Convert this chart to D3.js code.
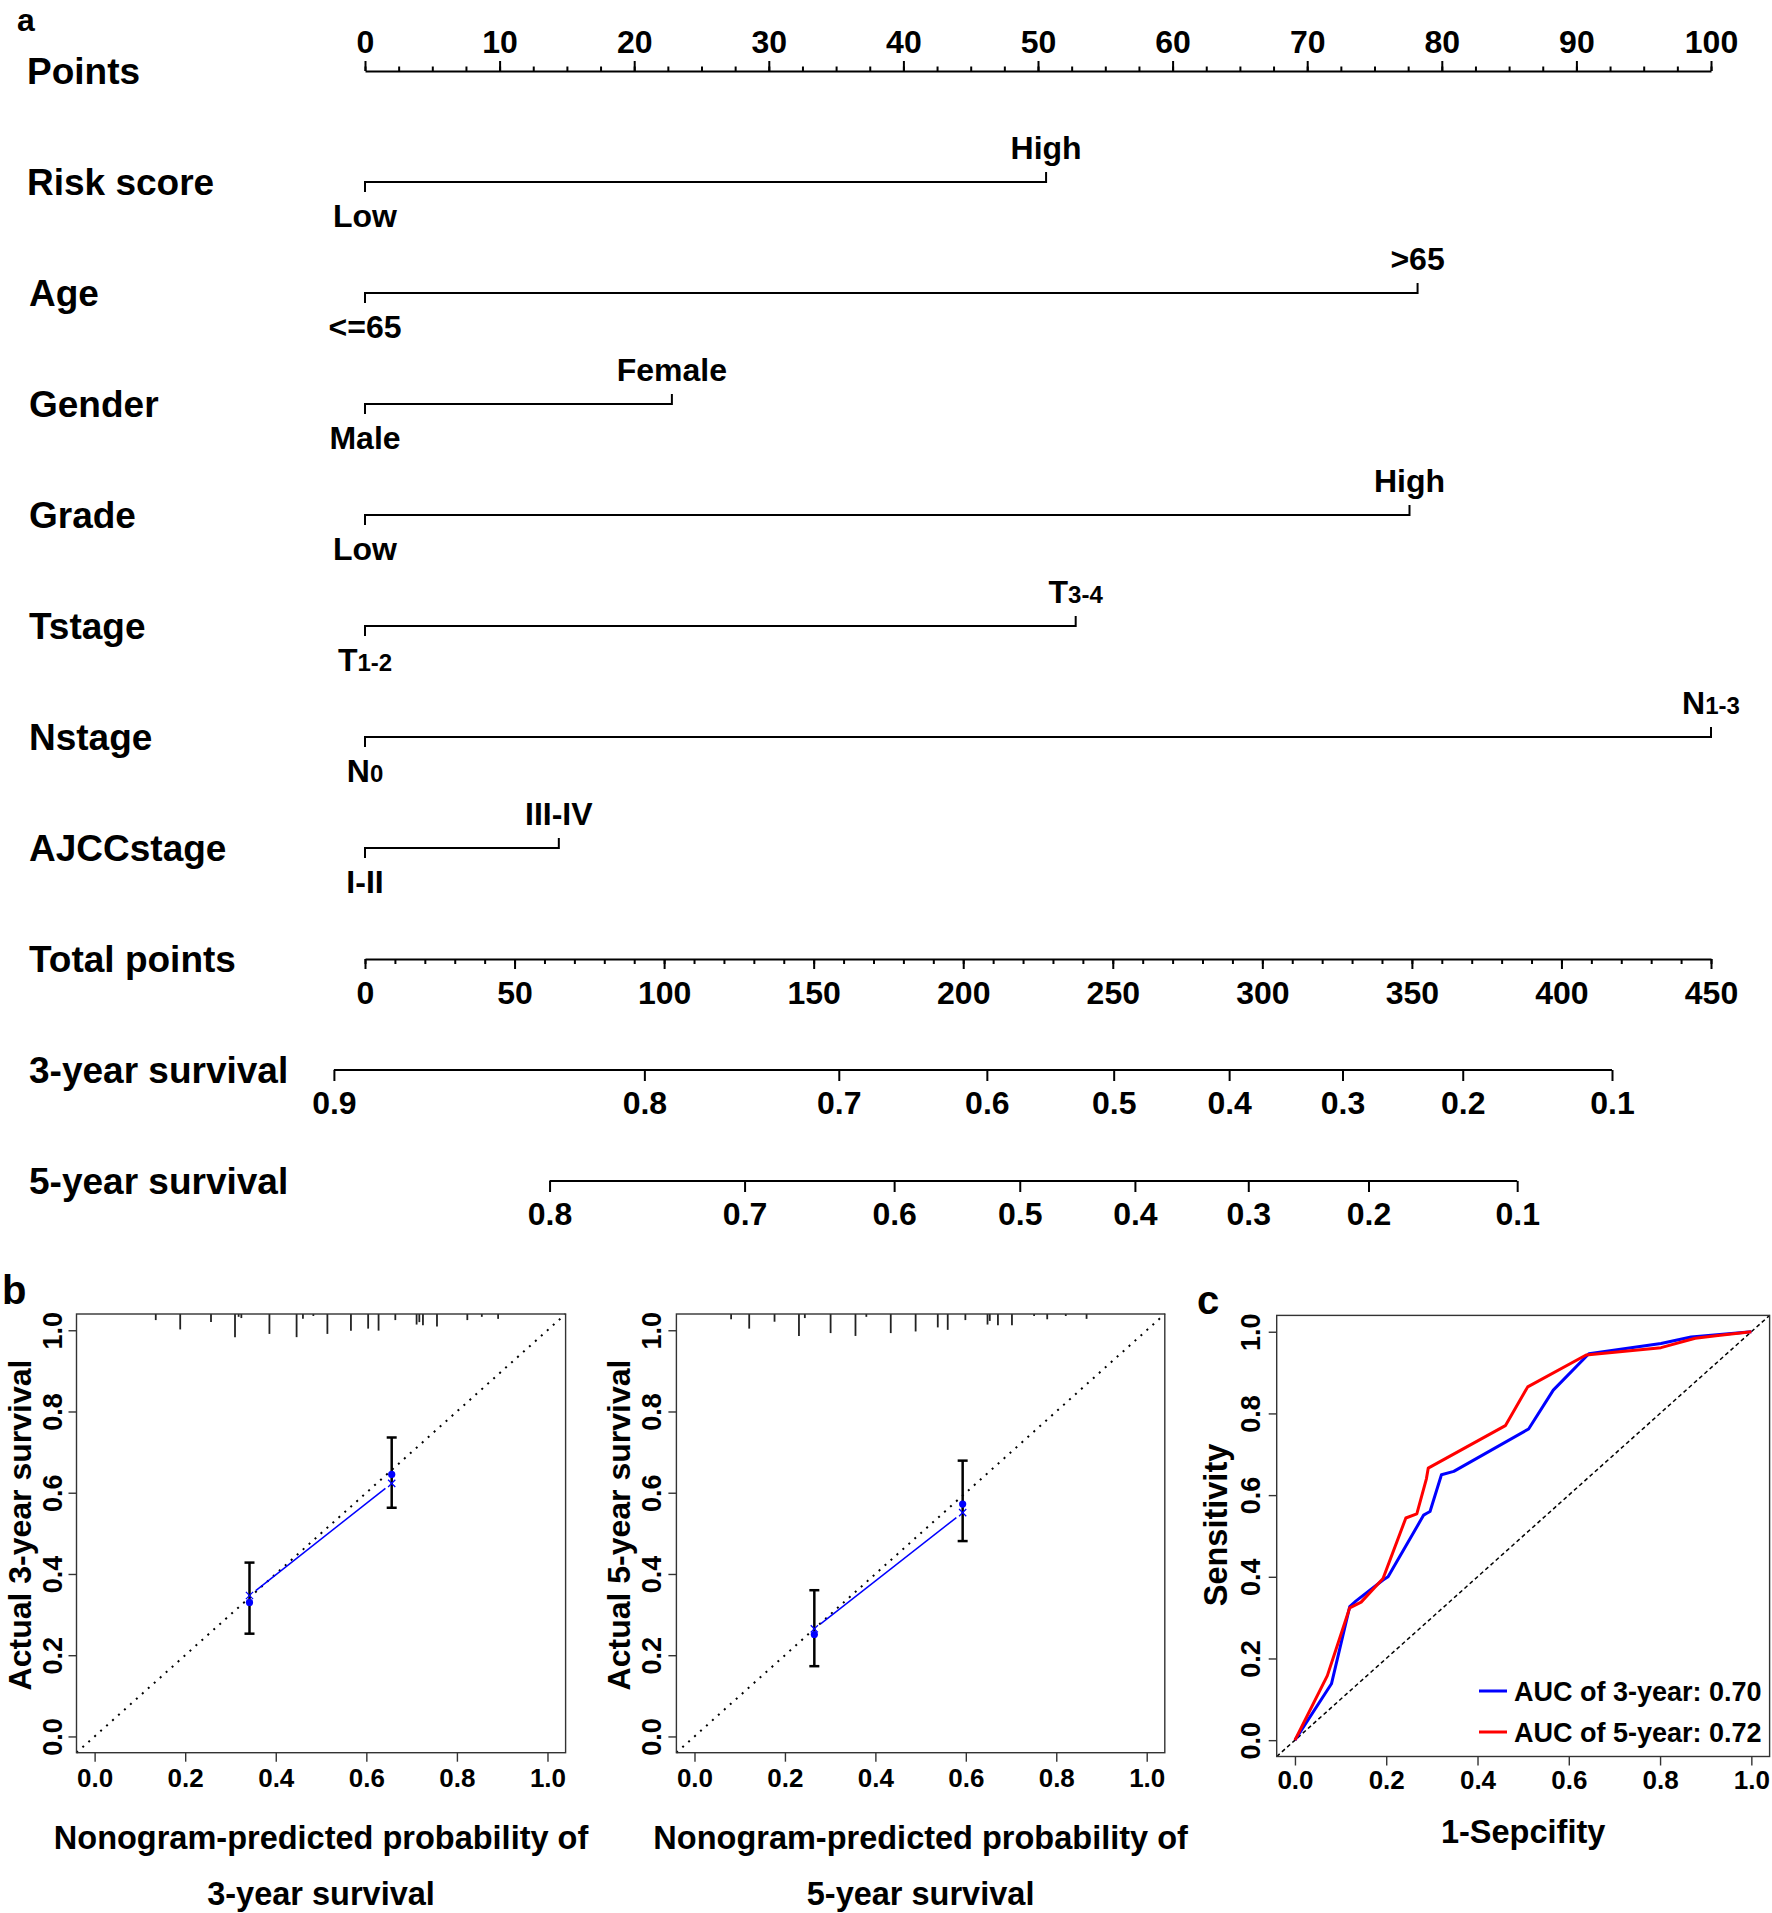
<!DOCTYPE html>
<html><head><meta charset="utf-8">
<script src="https://cdn.jsdelivr.net/npm/d3@7"></script>
<style>
body{margin:0;background:#fff}
svg text{font-family:"Liberation Sans",Arial,Helvetica,sans-serif;font-weight:bold;fill:#000}
</style>
</head><body>
<svg id="chart" width="1772" height="1913"></svg>
<script>
// ---------------- DATA ----------------
const rowLabels = ["Points","Risk score","Age","Gender","Grade","Tstage","Nstage","AJCCstage","Total points","3-year survival","5-year survival"];
const pointsMajor = [0,10,20,30,40,50,60,70,80,90,100];
const pointsMinor = d3.range(0, 100.01, 2.5);
const variables = ["Risk score","Age","Gender","Grade","Tstage","Nstage","AJCCstage"];
const lowLevels  = ["Low","<=65","Male","Low","T_1-2","N_0","I-II"];
const highLevels = ["High",">65","Female","High","T_3-4","N_1-3","III-IV"];
const lowPoints  = [0,0,0,0,0,0,0];
const highPoints = [50.6,78.2,22.8,77.6,52.8,100,14.4];
const totalMajor = [0,50,100,150,200,250,300,350,400,450];
const totalMinor = d3.range(0, 450.01, 10);
const surv3Probs = ["0.9","0.8","0.7","0.6","0.5","0.4","0.3","0.2","0.1"];
const surv3Total = [-10.4,93.4,158.4,207.9,250.3,288.9,326.8,367.0,416.9];
const surv5Probs = ["0.8","0.7","0.6","0.5","0.4","0.3","0.2","0.1"];
const surv5Total = [61.7,126.9,176.9,218.9,257.4,295.3,335.5,385.2];

// calibration 3-year
const cal3Pred = [0.342,0.656];
const cal3Obs  = [0.330,0.645];
const cal3Corr = [0.347,0.623];
const cal3Lo   = [0.253,0.563];
const cal3Hi   = [0.428,0.736];
const rug3Pred = [0.135,0.189,0.257,0.310,0.318,0.324,0.386,0.446,0.460,0.483,0.514,0.566,0.604,0.627,0.664,0.711,0.717,0.725,0.756,0.823,0.855,0.891];
const rug3Freq = [0.015,0.038,0.020,0.057,0.007,0.010,0.049,0.057,0.012,0.005,0.049,0.041,0.036,0.041,0.015,0.026,0.020,0.028,0.031,0.015,0.007,0.012];
// calibration 5-year
const cal5Pred = [0.265,0.593];
const cal5Obs  = [0.251,0.572];
const cal5Corr = [0.265,0.551];
const cal5Lo   = [0.173,0.481];
const cal5Hi   = [0.360,0.679];
const rug5Pred = [0.081,0.121,0.177,0.231,0.244,0.301,0.356,0.380,0.434,0.489,0.538,0.560,0.599,0.648,0.653,0.671,0.702,0.751,0.780,0.821,0.867];
const rug5Freq = [0.013,0.036,0.019,0.054,0.010,0.047,0.054,0.007,0.047,0.043,0.033,0.039,0.015,0.026,0.017,0.028,0.028,0.005,0.013,0.005,0.012];
const calTicks = [0,0.2,0.4,0.6,0.8,1.0];

// ROC
const roc3Fpr = [0,0.080,0.120,0.134,0.193,0.204,0.282,0.288,0.296,0.321,0.348,0.512,0.566,0.644,0.802,0.868,1];
const roc3Tpr = [0,0.138,0.327,0.341,0.392,0.400,0.551,0.555,0.560,0.650,0.658,0.762,0.857,0.946,0.971,0.987,1];
const roc5Fpr = [0,0.071,0.120,0.145,0.193,0.243,0.267,0.288,0.292,0.461,0.510,0.638,0.802,0.877,0.927,1];
const roc5Tpr = [0,0.158,0.324,0.338,0.396,0.544,0.554,0.640,0.666,0.770,0.865,0.943,0.961,0.984,0.991,1];
const legendLabels = ["AUC of 3-year: 0.70","AUC of 5-year: 0.72"];
const legendColors = ["#0000ff","#ff0000"];

// ---------------- DRAW ----------------
const svg = d3.select("#chart");

function styleAxis(g, fs, sw, col){
  g.attr("font-size", fs).attr("font-family", null);
  g.selectAll("line").attr("stroke", col || "#000").attr("stroke-width", sw);
  g.selectAll("path.domain").attr("stroke", col || "#000").attr("stroke-width", sw);
}

// panel letters
svg.append("text").attr("x",17).attr("y",31).attr("font-size",32).text("a");
svg.append("text").attr("x",2).attr("y",1304).attr("font-size",40).text("b");
svg.append("text").attr("x",1197).attr("y",1314).attr("font-size",40).text("c");

// ---- Nomogram ----
const ptsX = d3.scaleLinear().domain([0,100]).range([365,1711]);
const totX = d3.scaleLinear().domain([0,450]).range([365,1711]);
const rowY = d3.scaleLinear().domain([0,10]).range([71,1181]);
const nom = svg.append("g");

rowLabels.forEach((t,i)=>{
  nom.append("text").attr("x", i < 2 ? 27 : 29).attr("y", rowY(i)+13).attr("font-size",37).text(t);
});

// Points axis
const gPm = nom.append("g").attr("transform",`translate(0,${rowY(0)})`)
  .call(d3.axisTop(ptsX).tickValues(pointsMinor).tickSize(4.5).tickSizeOuter(0).tickFormat(""));
styleAxis(gPm, 32, 2);
const gP = nom.append("g").attr("transform",`translate(0,${rowY(0)})`)
  .call(d3.axisTop(ptsX).tickValues(pointsMajor).tickSize(10).tickSizeOuter(0).tickFormat(d3.format("d")));
styleAxis(gP, 32, 2);
gP.select("path.domain").remove();
gP.selectAll("text").attr("y",-18).attr("dy",null);

// variable rows
function levelText(g, label, x, y){
  const parts = label.split("_");
  const t = g.append("text").attr("x",x).attr("y",y).attr("text-anchor","middle").attr("font-size",32);
  t.append("tspan").text(parts[0]);
  if (parts[1]) t.append("tspan").attr("font-size",24).text(parts[1]);
}
variables.forEach((v,i)=>{
  const y = rowY(i+1);
  const x0 = ptsX(lowPoints[i]), x1 = ptsX(highPoints[i]);
  const g = nom.append("g");
  g.append("line").attr("x1",x0).attr("x2",x1).attr("y1",y).attr("y2",y).attr("stroke","#000").attr("stroke-width",2);
  g.append("line").attr("x1",x0).attr("x2",x0).attr("y1",y-1).attr("y2",y+10).attr("stroke","#000").attr("stroke-width",2);
  g.append("line").attr("x1",x1).attr("x2",x1).attr("y1",y+1).attr("y2",y-10).attr("stroke","#000").attr("stroke-width",2);
  levelText(g, lowLevels[i], x0, y+45);
  levelText(g, highLevels[i], x1, y-23);
});

// Total points axis
const yT = rowY(8);
const gTm = nom.append("g").attr("transform",`translate(0,${yT})`)
  .call(d3.axisBottom(totX).tickValues(totalMinor).tickSize(5).tickSizeOuter(0).tickFormat(""));
styleAxis(gTm, 32, 2);
const gT = nom.append("g").attr("transform",`translate(0,${yT})`)
  .call(d3.axisBottom(totX).tickValues(totalMajor).tickSize(10).tickSizeOuter(0).tickFormat(d3.format("d")));
styleAxis(gT, 32, 2);
gT.select("path.domain").remove();
gT.selectAll("text").attr("y",45).attr("dy",null);

// survival axes
function survAxis(yy, totals, probs){
  const g = nom.append("g").attr("transform",`translate(0,${yy})`)
    .call(d3.axisBottom(totX).tickValues(totals).tickSize(11).tickFormat((d,i)=>probs[i]));
  styleAxis(g, 32, 2);
  g.select("path.domain").remove();
  g.append("line").attr("x1",totX(d3.min(totals))).attr("x2",totX(d3.max(totals)))
    .attr("y1",0).attr("y2",0).attr("stroke","#000").attr("stroke-width",2);
  g.selectAll("text").attr("y",44).attr("dy",null);
}
survAxis(rowY(9), surv3Total, surv3Probs);
survAxis(rowY(10), surv5Total, surv5Probs);

// ---- Calibration plots ----
function calPlot(left, right, top, bottom, pred, obs, corr, lo, hi, rugP, rugF, ylab, xlab2){
  const x = d3.scaleLinear().domain([-0.04,1.04]).range([left,right]);
  const y = d3.scaleLinear().domain([-0.04,1.04]).range([bottom,top]);
  const g = svg.append("g");
  // diagonal
  g.append("line").attr("x1",x(-0.04)).attr("y1",y(-0.04)).attr("x2",x(1.04)).attr("y2",y(1.04))
    .attr("stroke","#000").attr("stroke-width",2).attr("stroke-dasharray","2,6");
  // rug
  rugP.forEach((p,i)=>{
    g.append("line").attr("x1",x(p)).attr("x2",x(p)).attr("y1",y(1.04)).attr("y2",y(1.04-rugF[i]))
      .attr("stroke","#222").attr("stroke-width",1.8);
  });
  // error bars
  pred.forEach((p,i)=>{
    const cx = x(p);
    g.append("line").attr("x1",cx).attr("x2",cx).attr("y1",y(lo[i])).attr("y2",y(hi[i])).attr("stroke","#000").attr("stroke-width",2.5);
    [lo[i],hi[i]].forEach(v=>g.append("line").attr("x1",cx-5).attr("x2",cx+5).attr("y1",y(v)).attr("y2",y(v)).attr("stroke","#000").attr("stroke-width",2.5));
  });
  // blue line between corrected points with gaps
  const ax = x(pred[0]), ay = y(corr[0]), bx = x(pred[1]), by = y(corr[1]);
  const L = Math.hypot(bx-ax, by-ay), ux=(bx-ax)/L, uy=(by-ay)/L, gap=8;
  g.append("line").attr("x1",ax+ux*gap).attr("y1",ay+uy*gap).attr("x2",bx-ux*gap).attr("y2",by-uy*gap)
    .attr("stroke","#0000ff").attr("stroke-width",1.5);
  // X markers
  pred.forEach((p,i)=>{
    const cx=x(p), cy=y(corr[i]), s=3.6;
    g.append("path").attr("d",`M${cx-s},${cy-s}L${cx+s},${cy+s}M${cx-s},${cy+s}L${cx+s},${cy-s}`)
      .attr("stroke","#0000ff").attr("stroke-width",1.3).attr("fill","none");
  });
  // observed dots
  pred.forEach((p,i)=>{
    g.append("circle").attr("cx",x(p)).attr("cy",y(obs[i])).attr("r",3.6).attr("fill","#0000ff");
  });
  // box
  g.append("rect").attr("x",left).attr("y",top).attr("width",right-left).attr("height",bottom-top)
    .attr("fill","none").attr("stroke","#333").attr("stroke-width",1.4);
  // axes
  const gx = g.append("g").attr("transform",`translate(0,${bottom})`)
    .call(d3.axisBottom(x).tickValues(calTicks).tickSize(9).tickFormat(d3.format(".1f")));
  styleAxis(gx, 26, 1.4, "#333");
  gx.select("path.domain").remove();
  gx.selectAll("text").attr("y",34).attr("dy",null);
  const gy = g.append("g").attr("transform",`translate(${left},0)`)
    .call(d3.axisLeft(y).tickValues(calTicks).tickSize(8).tickFormat(d3.format(".1f")));
  styleAxis(gy, 27, 1.4, "#333");
  gy.select("path.domain").remove();
  gy.selectAll("text").attr("x",null).attr("dy",null).attr("text-anchor","middle")
    .attr("transform","translate(-15,0) rotate(-90)");
  // labels
  const cxm = (left+right)/2;
  g.append("text").attr("x",cxm).attr("y",1849).attr("text-anchor","middle").attr("font-size",32.5).text("Nonogram-predicted probability of");
  g.append("text").attr("x",cxm).attr("y",1905).attr("text-anchor","middle").attr("font-size",32.5).text(xlab2);
  g.append("text").attr("transform",`translate(${left-46},1525) rotate(-90)`).attr("text-anchor","middle").attr("font-size",32).text(ylab);
}
calPlot(76.5, 565.6, 1314, 1752.7, cal3Pred, cal3Obs, cal3Corr, cal3Lo, cal3Hi, rug3Pred, rug3Freq, "Actual 3-year survival", "3-year survival");
calPlot(676.4, 1164.8, 1314, 1752.7, cal5Pred, cal5Obs, cal5Corr, cal5Lo, cal5Hi, rug5Pred, rug5Freq, "Actual 5-year survival", "5-year survival");

// ---- ROC ----
(function(){
  const left=1276.7, right=1769.6, top=1315.4, bottom=1756.5;
  const x = d3.scaleLinear().domain([-0.04,1.04]).range([left,right]);
  const y = d3.scaleLinear().domain([-0.04,1.04]).range([bottom,top]);
  const g = svg.append("g");
  g.append("line").attr("x1",x(-0.04)).attr("y1",y(-0.04)).attr("x2",x(1.04)).attr("y2",y(1.04))
    .attr("stroke","#000").attr("stroke-width",1.5).attr("stroke-dasharray","4,3");
  const line = d3.line().x(d=>x(d[0])).y(d=>y(d[1]));
  g.append("path").datum(roc3Fpr.map((f,i)=>[f,roc3Tpr[i]])).attr("d",line)
    .attr("fill","none").attr("stroke",legendColors[0]).attr("stroke-width",3).attr("stroke-linejoin","round");
  g.append("path").datum(roc5Fpr.map((f,i)=>[f,roc5Tpr[i]])).attr("d",line)
    .attr("fill","none").attr("stroke",legendColors[1]).attr("stroke-width",3).attr("stroke-linejoin","round");
  g.append("rect").attr("x",left).attr("y",top).attr("width",right-left).attr("height",bottom-top)
    .attr("fill","none").attr("stroke","#333").attr("stroke-width",1.4);
  const gx = g.append("g").attr("transform",`translate(0,${bottom})`)
    .call(d3.axisBottom(x).tickValues(calTicks).tickSize(9).tickFormat(d3.format(".1f")));
  styleAxis(gx, 26, 1.4, "#333");
  gx.select("path.domain").remove();
  gx.selectAll("text").attr("y",32).attr("dy",null);
  const gy = g.append("g").attr("transform",`translate(${left},0)`)
    .call(d3.axisLeft(y).tickValues(calTicks).tickSize(8).tickFormat(d3.format(".1f")));
  styleAxis(gy, 27, 1.4, "#333");
  gy.select("path.domain").remove();
  gy.selectAll("text").attr("x",null).attr("dy",null).attr("text-anchor","middle")
    .attr("transform","translate(-17,0) rotate(-90)");
  g.append("text").attr("x",(left+right)/2).attr("y",1843).attr("text-anchor","middle").attr("font-size",32.5).text("1-Sepcifity");
  g.append("text").attr("transform",`translate(${left-50},1525) rotate(-90)`).attr("text-anchor","middle").attr("font-size",32.5).text("Sensitivity");
  // legend
  legendLabels.forEach((t,i)=>{
    const ly = 1691 + i*41;
    g.append("line").attr("x1",1479).attr("x2",1507).attr("y1",ly).attr("y2",ly).attr("stroke",legendColors[i]).attr("stroke-width",3);
    g.append("text").attr("x",1514).attr("y",ly+10).attr("font-size",27).text(t);
  });
})();
</script>
</body></html>
